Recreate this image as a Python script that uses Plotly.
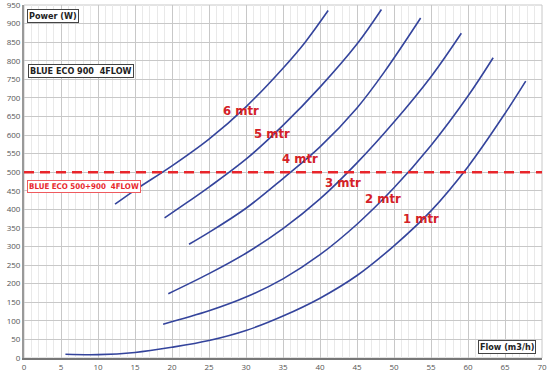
import plotly.graph_objects as go

# Data (flow m3/h, power W)
flow_6m = [12.3, 15, 20, 25, 30, 35, 38, 41.1]
power_6m = [414, 452, 517, 589, 676, 780, 850, 935]

flow_5m = [19.0, 22, 25, 30, 35, 40, 45, 48.3]
power_5m = [377, 418, 460, 535, 626, 729, 845, 938]

flow_4m = [22.3, 25, 30, 35, 40, 45, 48.7, 53.6]
power_4m = [306, 338, 403, 483, 568, 673, 770, 915]

flow_3m = [19.5, 25, 30, 35, 40, 45, 50, 55, 59.1]
power_3m = [173, 227, 282, 348, 428, 525, 635, 757, 874]

flow_2m = [18.8, 25, 30, 35, 40, 45, 50, 55, 60, 63.4]
power_2m = [91, 127, 164, 213, 278, 360, 458, 572, 705, 808]

flow_1m = [5.6, 10, 15, 20, 25, 30, 35, 40, 45, 50, 55, 60, 65, 67.8]
power_1m = [10, 9, 15, 29, 47, 74, 113, 161, 222, 302, 396, 515, 658, 745]

curve_names = ["6 mtr", "5 mtr", "4 mtr", "3 mtr", "2 mtr", "1 mtr"]
label_x = [29.3, 33.5, 37.3, 43.1, 48.5, 53.6]
label_y = [666, 604, 536, 473, 428, 375]

limit_power = 500
x_ticks = list(range(0, 71, 5))
y_ticks = list(range(0, 951, 50))

curves = [(flow_6m, power_6m), (flow_5m, power_5m), (flow_4m, power_4m),
          (flow_3m, power_3m), (flow_2m, power_2m), (flow_1m, power_1m)]

fig = go.Figure()
for (fx, py), name in zip(curves, curve_names):
    fig.add_trace(go.Scatter(x=fx, y=py, mode="lines", name=name,
                             line=dict(color="#34449c", width=1.6, shape="spline", smoothing=1),
                             showlegend=False, hoverinfo="skip"))

fig.add_trace(go.Scatter(x=[0, 70], y=[limit_power, limit_power], mode="lines",
                         line=dict(color="#e8262b", width=2.6, dash="10px,6px"),
                         showlegend=False, hoverinfo="skip"))

label_font = dict(family="DejaVu Sans Condensed", size=13, color="#d42127")
for name, lx, ly in zip(curve_names, label_x, label_y):
    fig.add_annotation(x=lx, y=ly, text="<b>%s</b>" % name, showarrow=False, font=label_font)

box_font = dict(family="DejaVu Sans Condensed", size=9, color="#222")
fig.add_annotation(xref="paper", yref="paper", x=0.005, y=0.988, xanchor="left", yanchor="top",
                   text="<b>Power (W)</b>", showarrow=False, font=box_font,
                   bgcolor="white", bordercolor="#444", borderwidth=1, borderpad=1)
fig.add_annotation(xref="paper", yref="paper", x=0.008, y=0.833, xanchor="left", yanchor="top",
                   text="<b>BLUE ECO 900  4FLOW</b>", showarrow=False, font=box_font,
                   bgcolor="white", bordercolor="#444", borderwidth=1, borderpad=1)
fig.add_annotation(xref="paper", yref="paper", x=0.005, y=0.505, xanchor="left", yanchor="top",
                   text="<b>BLUE ECO 500+900  4FLOW</b>", showarrow=False,
                   font=dict(box_font, size=7.9, color="#e8262b"),
                   bgcolor="white", bordercolor="#ee5a5e", borderwidth=1, borderpad=1)
fig.add_annotation(xref="paper", yref="paper", x=0.989, y=0.011, xanchor="right", yanchor="bottom",
                   text="<b>Flow (m3/h)</b>", showarrow=False, font=box_font,
                   bgcolor="white", bordercolor="#444", borderwidth=1, borderpad=1)

tick_font = dict(family="Open Sans, DejaVu Sans", size=8, color="#555")
fig.update_layout(
    width=553, height=377,
    margin=dict(l=24, r=11, t=5, b=19, autoexpand=False),
    paper_bgcolor="white", plot_bgcolor="white",
    xaxis=dict(range=[0, 70], tickvals=x_ticks, showgrid=True, gridcolor="#c8c8c8", gridwidth=1,
               minor=dict(dtick=1, showgrid=True, gridcolor="#e9e9e9", gridwidth=1),
               showline=True, linecolor="#777", linewidth=2, mirror=False, automargin=False,
               ticks="", tickfont=tick_font, zeroline=False, fixedrange=True,
               ticklabeloverflow="allow"),
    yaxis=dict(range=[0, 950], tickvals=y_ticks, showgrid=True, gridcolor="#c8c8c8", gridwidth=1,
               showline=True, linecolor="#999", linewidth=2, automargin=False,
               ticks="", tickfont=tick_font, zeroline=False, fixedrange=True,
               ticklabeloverflow="allow"),
    shapes=[dict(type="rect", xref="paper", yref="paper", x0=0, y0=0, x1=1, y1=1,
                 line=dict(color="#c8c8c8", width=1), fillcolor="rgba(0,0,0,0)", layer="below")],
)

fig.write_html("out.html", config={"displayModeBar": False},
               post_script="document.body.style.margin='0';")
